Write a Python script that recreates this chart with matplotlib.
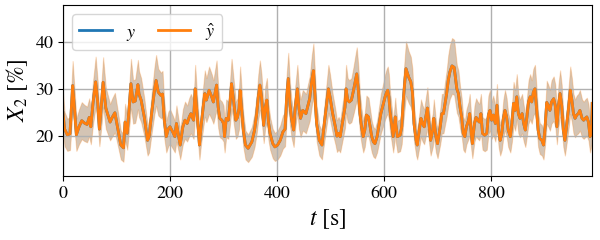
import matplotlib
matplotlib.use('Agg')
import matplotlib.pyplot as plt

# values (time in s, X_2 in %)
t = [0, 3, 8, 13, 18, 22, 25, 30, 35, 40, 45, 49, 52, 56, 61, 65, 68, 72, 75, 80,
     84, 88, 92, 97, 103, 108, 113, 116, 120, 127, 131, 135, 140, 142, 146, 152, 158, 161, 166, 171,
     174, 178, 183, 186, 189, 193, 197, 200, 205, 209, 212, 217, 219, 224, 228, 232, 236, 239, 244, 247,
     250, 253, 255, 258, 262, 265, 268, 273, 278, 281, 287, 290, 293, 297, 300, 302, 305, 309, 312, 315,
     318, 323, 326, 329, 331, 334, 337, 341, 346, 353, 358, 362, 365, 368, 371, 375, 378, 381, 384, 387,
     392, 396, 401, 406, 411, 415, 418, 421, 424, 427, 431, 434, 438, 441, 444, 448, 451, 454, 457, 461,
     465, 468, 471, 474, 479, 484, 487, 492, 496, 499, 504, 509, 512, 515, 518, 521, 524, 527, 529, 532,
     535, 539, 543, 546, 549, 552, 555, 558, 561, 564, 567, 571, 574, 577, 580, 583, 587, 590, 594, 599,
     602, 605, 607, 609, 611, 614, 617, 621, 622, 625, 630, 633, 636, 639, 641, 646, 650, 653, 656, 660,
     662, 666, 669, 672, 675, 678, 681, 685, 687, 691, 693, 697, 700, 705, 708, 711, 714, 717, 720, 723,
     727, 731, 736, 739, 742, 745, 748, 751, 754, 758, 760, 763, 765, 769, 772, 775, 778, 781, 784, 788,
     792, 795, 798, 801, 804, 808, 811, 814, 817, 820, 823, 826, 829, 832, 836, 839, 842, 845, 848, 851,
     854, 858, 861, 864, 867, 870, 873, 876, 879, 882, 885, 888, 891, 895, 898, 901, 904, 907, 910, 913,
     917, 920, 923, 926, 929, 932, 935, 938, 941, 945, 948, 951, 954, 957, 960, 963, 966, 970, 973, 976,
     979, 982, 985, 988, 989]
y_true = [25, 21.5, 20.3, 20.5, 30.8, 25, 20.3, 22, 23.3, 22.8, 22.5, 24, 22, 27, 31.6, 27, 21.5, 27, 31.5, 26,
          24.5, 23, 24, 25, 21.3, 18.1, 17.5, 23, 20.6, 31.2, 27.3, 27.5, 31, 29, 27.7, 24, 19.1, 19.9, 25.2, 29.8,
          31.9, 29.4, 28.7, 29, 23.8, 19.9, 21.6, 22, 20.9, 19.9, 22.7, 19.5, 18.1, 22, 23.4, 22.7, 24.1, 24.8, 23.4, 30.1,
          25.5, 21.3, 18.1, 22, 26.2, 29.1, 27.7, 29.8, 28.4, 27.3, 30.9, 26.2, 23.8, 23.4, 22.7, 19.9, 23.8, 23.4, 27, 31.2,
          28.4, 23.4, 24, 25.9, 29.8, 25.5, 21.3, 18.1, 17.4, 18.8, 21.3, 24.8, 28.4, 30.9, 28.4, 22.3, 26.2, 27.7, 23, 20.6,
          18.4, 17.7, 18.1, 19.1, 20.9, 21.5, 28.4, 32.3, 27, 23.8, 21.3, 26.2, 30.1, 25.9, 23.8, 25.5, 25.2, 24.8, 26.2, 28,
          31.9, 34, 28.4, 22.7, 19.1, 18.1, 21.3, 26.2, 30.1, 28.4, 24.8, 22, 20, 20.6, 19.9, 22, 24.1, 26.2, 30.1, 27.7,
          27.3, 27.7, 29.8, 31.6, 33.3, 29.8, 24.8, 22, 19.9, 21.3, 24.5, 24.1, 22, 19.9, 18.8, 18.4, 19.9, 22, 24.8, 27,
          28.4, 29.4, 29.8, 28.4, 25.5, 22.7, 19.9, 24.1, 22.5, 19.9, 20.2, 22, 27.7, 31.9, 34.4, 32.6, 31.6, 29.4, 22.7, 19.1,
          18.1, 21.3, 23.8, 22.7, 22, 24.1, 26, 21.3, 19.1, 21.3, 23.8, 19.9, 18.4, 22, 24.8, 24.8, 27, 29.1, 31.9, 33.7,
          35, 34.7, 30.1, 29.1, 26.2, 24.1, 20.6, 19.9, 22, 23.4, 24.8, 20.6, 18.4, 22.7, 24, 23.4, 23, 24.8, 20.6, 20.2,
          20.6, 24.5, 25.5, 23.4, 24.5, 22.7, 26.6, 21.3, 19.1, 20.5, 23.8, 25.5, 24.1, 21.3, 19.9, 22.7, 27, 25.5, 28.4, 24.8,
          23.8, 24.8, 22.7, 21.3, 24.1, 27.3, 28.4, 27.3, 29.4, 30.1, 25.9, 21.3, 19.5, 19.1, 18.1, 22, 27.2, 26.5, 25.5, 27.3,
          28, 26.5, 22, 26.6, 29.1, 26.5, 21.3, 19.1, 22, 26.2, 29.8, 27.7, 24.8, 23.8, 24.5, 24.8, 25.5, 23.8, 23.4, 23.8,
          24.1, 23, 19.9, 22, 27]
y_pred = list(y_true)  # prediction follows the measurement almost exactly
rel_std = 0.17          # width of the shaded band, relative to the value

plt.rcParams['font.family'] = 'STIXGeneral'
plt.rcParams['mathtext.fontset'] = 'stix'

lo_true = [v * (1 - rel_std) for v in y_true]
hi_true = [v * (1 + rel_std) for v in y_true]
lo_pred = [v * (1 - rel_std) for v in y_pred]
hi_pred = [v * (1 + rel_std) for v in y_pred]

fig, ax = plt.subplots(figsize=(6, 2.4), dpi=100)
ax.fill_between(t, lo_true, hi_true, color='tab:blue', alpha=0.25, linewidth=0)
ax.fill_between(t, lo_pred, hi_pred, color='tab:orange', alpha=0.25, linewidth=0.8)
ax.plot(t, y_true, color='tab:blue', lw=2, label='$y$')
ax.plot(t, y_pred, color='tab:orange', lw=2, label=r'$\hat{y}$')

ax.set_xlim(0, 989)
ax.set_ylim(11.5, 48)
ax.set_xticks([0, 200, 400, 600, 800])
ax.set_yticks([20, 30, 40])
ax.tick_params(labelsize=13)
ax.set_xlabel('$t$ [s]', fontsize=17)
ax.set_ylabel('$X_2$ [%]', fontsize=17)
ax.grid(color='#b0b0b0', lw=1)
ax.legend(loc='upper left', ncol=2, fontsize=13, handlelength=1.8, columnspacing=1.2)

plt.subplots_adjust(left=0.105, right=0.987, top=0.979, bottom=0.267)
plt.savefig('out.png')
